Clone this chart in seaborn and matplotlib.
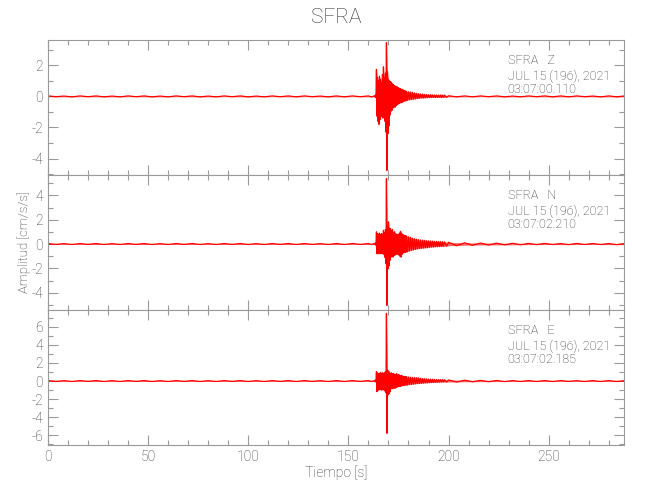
import numpy as np
import pandas as pd
import matplotlib
matplotlib.use('Agg')
import matplotlib.pyplot as plt
import seaborn as sns
from matplotlib.ticker import MultipleLocator

# sample times: quiet part, strong motion, coda, tail
t_pre = np.arange(0, 161, 8)
t_act = np.arange(163.0, 179.0, 0.5)
t_coda = np.arange(179, 199, 1)
t_post = np.arange(200, 289, 8)

# ---- Z ----
z_hi_pre = [0.03, 0.02, 0.03, 0.03, 0.02, 0.03, 0.03, 0.02, 0.03, 0.03, 0.02,
            0.03, 0.03, 0.02, 0.03, 0.03, 0.03, 0.02, 0.03, 0.03, 0.03]
z_lo_pre = [-0.02, -0.03, -0.02, -0.03, -0.03, -0.02, -0.03, -0.03, -0.02, -0.03, -0.03,
            -0.02, -0.03, -0.03, -0.02, -0.03, -0.02, -0.03, -0.03, -0.02, -0.03]
z_hi_act = [0.03, 0.08, 1.74, 1.2, 1.0, 1.3, 1.1, 0.9, 1.4, 1.9, 1.2, 1.5, 3.46, 1.6, 1.1, 1.0,
            0.95, 0.9, 0.8, 0.75, 0.7, 0.65, 0.62, 0.6, 0.55, 0.5, 0.5, 0.45, 0.45, 0.4, 0.38, 0.35]
z_lo_act = [-0.03, -0.07, -1.27, -1.6, -1.8, -1.5, -1.3, -1.2, -1.4, -1.1, -1.6, -2.3, -4.77, -2.4, -1.9, -1.2,
            -0.95, -0.9, -0.75, -0.65, -0.7, -0.6, -0.55, -0.5, -0.45, -0.42, -0.4, -0.38, -0.35, -0.3, -0.3, -0.28]
z_hi_coda = [0.32, 0.3, 0.28, 0.26, 0.22, 0.2, 0.17, 0.15, 0.15, 0.13,
             0.12, 0.1, 0.11, 0.1, 0.09, 0.09, 0.08, 0.09, 0.08, 0.08]
z_lo_coda = [-0.25, -0.22, -0.2, -0.18, -0.16, -0.14, -0.12, -0.1, -0.1, -0.09,
             -0.08, -0.07, -0.07, -0.06, -0.07, -0.06, -0.06, -0.07, -0.06, -0.06]
z_hi_post = [0.04, 0.03, 0.03, 0.03, 0.02, 0.03, 0.03, 0.03, 0.03, 0.02, 0.03, 0.03]
z_lo_post = [-0.03, -0.03, -0.02, -0.03, -0.03, -0.02, -0.03, -0.03, -0.02, -0.03, -0.03, -0.03]

# ---- N ----
n_hi_pre = [0.04, 0.03, 0.04, 0.04, 0.03, 0.04, 0.04, 0.03, 0.04, 0.04, 0.03,
            0.04, 0.04, 0.03, 0.04, 0.04, 0.04, 0.03, 0.04, 0.04, 0.04]
n_lo_pre = [-0.03, -0.04, -0.03, -0.04, -0.04, -0.03, -0.04, -0.04, -0.03, -0.04, -0.04,
            -0.03, -0.04, -0.04, -0.03, -0.04, -0.03, -0.04, -0.04, -0.03, -0.04]
n_hi_act = [0.04, 0.1, 1.0, 0.85, 0.8, 0.9, 0.75, 0.85, 0.8, 1.13, 0.9, 1.2, 5.37, 1.4, 1.82, 1.3,
            1.27, 1.1, 1.2, 0.95, 1.0, 0.85, 0.8, 0.75, 0.8, 0.9, 1.05, 0.9, 0.8, 0.75, 0.7, 0.68]
n_lo_act = [-0.04, -0.1, -0.8, -0.75, -0.8, -0.7, -0.8, -0.75, -0.8, -0.85, -1.1, -1.6, -5.04, -2.04, -1.8, -1.35,
            -1.07, -1.0, -1.07, -0.95, -0.9, -0.85, -0.8, -0.85, -0.9, -1.0, -1.07, -0.85, -0.75, -0.7, -0.68, -0.66]
n_hi_coda = [0.66, 0.6, 0.55, 0.48, 0.44, 0.4, 0.36, 0.33, 0.32, 0.3,
             0.28, 0.26, 0.25, 0.24, 0.22, 0.22, 0.2, 0.2, 0.19, 0.18]
n_lo_coda = [-0.64, -0.58, -0.52, -0.48, -0.44, -0.4, -0.37, -0.35, -0.33, -0.32,
             -0.3, -0.27, -0.25, -0.24, -0.22, -0.22, -0.21, -0.2, -0.19, -0.18]
n_hi_post = [0.14, 0.1, 0.08, 0.07, 0.06, 0.05, 0.05, 0.04, 0.05, 0.04, 0.04, 0.04]
n_lo_post = [-0.14, -0.1, -0.08, -0.07, -0.06, -0.05, -0.04, -0.05, -0.04, -0.04, -0.05, -0.04]

# ---- E ----
e_hi_pre = [0.05, 0.04, 0.05, 0.05, 0.04, 0.05, 0.05, 0.04, 0.05, 0.05, 0.04,
            0.05, 0.05, 0.04, 0.05, 0.05, 0.05, 0.04, 0.05, 0.05, 0.05]
e_lo_pre = [-0.04, -0.05, -0.04, -0.05, -0.05, -0.04, -0.05, -0.05, -0.04, -0.05, -0.05,
            -0.04, -0.05, -0.05, -0.04, -0.05, -0.04, -0.05, -0.05, -0.04, -0.05]
e_hi_act = [0.05, 0.12, 1.03, 0.9, 0.84, 0.8, 0.95, 0.84, 0.9, 0.8, 0.95, 1.0, 7.47, 1.2, 1.1, 1.0,
            0.84, 0.9, 0.8, 0.84, 0.75, 0.7, 0.8, 0.66, 0.7, 0.66, 0.6, 0.62, 0.55, 0.5, 0.5, 0.48]
e_lo_act = [-0.05, -0.12, -1.17, -1.0, -0.99, -0.9, -0.95, -1.0, -0.9, -0.99, -1.1, -1.3, -5.77, -1.54, -1.4, -1.2,
            -0.8, -0.85, -0.8, -0.75, -0.8, -0.7, -0.65, -0.62, -0.6, -0.62, -0.55, -0.5, -0.5, -0.46, -0.45, -0.44]
e_hi_coda = [0.48, 0.45, 0.42, 0.4, 0.38, 0.37, 0.34, 0.3, 0.28, 0.26,
             0.24, 0.22, 0.21, 0.2, 0.18, 0.17, 0.16, 0.15, 0.15, 0.14]
e_lo_coda = [-0.44, -0.4, -0.37, -0.34, -0.31, -0.29, -0.27, -0.25, -0.23, -0.21,
             -0.2, -0.18, -0.17, -0.16, -0.14, -0.13, -0.12, -0.11, -0.11, -0.11]
e_hi_post = [0.12, 0.09, 0.07, 0.06, 0.05, 0.05, 0.05, 0.05, 0.04, 0.05, 0.05, 0.05]
e_lo_post = [-0.11, -0.08, -0.07, -0.06, -0.05, -0.05, -0.05, -0.04, -0.05, -0.05, -0.05, -0.05]

components = ['Z', 'N', 'E']
start_times = ['03:07:00.110', '03:07:02.210', '03:07:02.185']
date_label = 'JUL 15 (196), 2021'
ylims = [(-5.06, 3.63), (-5.42, 5.67), (-7.06, 7.84)]

hi_all = {
    'Z': z_hi_pre + z_hi_act + z_hi_coda + z_hi_post,
    'N': n_hi_pre + n_hi_act + n_hi_coda + n_hi_post,
    'E': e_hi_pre + e_hi_act + e_hi_coda + e_hi_post,
}
lo_all = {
    'Z': z_lo_pre + z_lo_act + z_lo_coda + z_lo_post,
    'N': n_lo_pre + n_lo_act + n_lo_coda + n_lo_post,
    'E': e_lo_pre + e_lo_act + e_lo_coda + e_lo_post,
}

t = np.concatenate([t_pre, t_act, t_coda, t_post])
step = np.append(np.diff(t), 8)


def trace_frame(hi, lo):
    # min/max per sample window, drawn as one zigzag line
    tt = np.empty(2 * len(t))
    aa = np.empty(2 * len(t))
    tt[0::2] = t
    tt[1::2] = t + step / 2
    aa[0::2] = hi
    aa[1::2] = lo
    return pd.DataFrame({'t': tt, 'amp': aa})


sns.set_style('ticks')
plt.rcParams['font.family'] = ['Roboto', 'DejaVu Sans']
plt.rcParams['font.weight'] = 'light'
plt.rcParams['axes.unicode_minus'] = False
gray_txt = '#333333'
gray_ax = '#9a9a9a'

fig, axs = plt.subplots(3, 1, sharex=True, figsize=(6.5, 5), dpi=100)
plt.subplots_adjust(left=0.0738, right=0.96, bottom=0.11, top=0.92, hspace=0)

for ax, comp, t0, yl in zip(axs, components, start_times, ylims):
    df = trace_frame(hi_all[comp], lo_all[comp])
    ax.fill_between(t, lo_all[comp], hi_all[comp], color='red', alpha=0.6, lw=0)
    sns.lineplot(data=df, x='t', y='amp', ax=ax, color='red', lw=0.9,
                 estimator=None, sort=False)
    ax.set_xlim(0, 287.6)
    ax.set_ylim(*yl)
    ax.set_xlabel('')
    ax.set_ylabel('')
    ax.xaxis.set_major_locator(MultipleLocator(50))
    ax.xaxis.set_minor_locator(MultipleLocator(10))
    ax.yaxis.set_major_locator(MultipleLocator(2))
    ax.yaxis.set_minor_locator(MultipleLocator(1))
    ax.tick_params(which='both', direction='in', top=True, right=True,
                   color=gray_ax, labelcolor=gray_txt, labelsize=10, width=0.8)
    ax.tick_params(which='major', length=7.2)
    ax.tick_params(which='minor', length=3.6)
    for s in ax.spines.values():
        s.set_color(gray_ax)
        s.set_linewidth(0.8)
    tr = ax.get_xaxis_transform()
    ax.text(229.5, 0.847, 'SFRA   ' + comp, transform=tr,
            ha='left', va='center', fontsize=9, color=gray_txt)
    ax.text(229.5, 0.731, date_label, transform=tr,
            ha='left', va='center', fontsize=9, color=gray_txt)
    ax.text(229.5, 0.635, t0, transform=tr,
            ha='left', va='center', fontsize=9, color=gray_txt)

axs[0].set_title('SFRA', fontsize=15, color=gray_txt, pad=12, fontweight='light')
axs[2].set_xlabel('Tiempo [s]', fontsize=10, color=gray_txt, labelpad=1,
                  fontweight='light')
axs[1].set_ylabel('Amplitud [cm/s/s]', fontsize=9.5, color=gray_txt,
                  fontweight='light')
axs[1].yaxis.set_label_coords(-0.03, 0.5)

plt.savefig('out.png', dpi=100)
